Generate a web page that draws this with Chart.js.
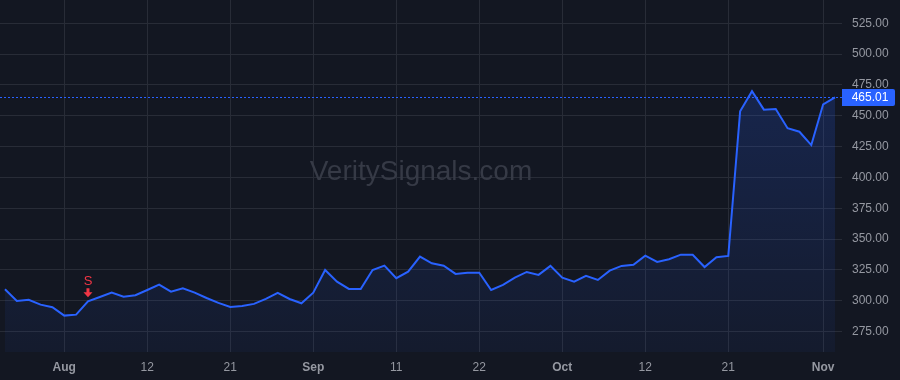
<!DOCTYPE html>
<html>
<head>
<meta charset="utf-8">
<script src="https://cdn.jsdelivr.net/npm/chart.js@4/dist/chart.umd.min.js"></script>
<style>
  html, body { margin: 0; padding: 0; background: #131722; }
  #wrap { width: 900px; height: 380px; position: relative; }
</style>
</head>
<body>
<div id="wrap"><canvas id="myChart"></canvas></div>
<script>
// daily closes, one per bar
const prices = [
  309.4, 299.9, 300.9, 296.9, 294.8, 288.0, 288.8, 299.6, 303.1, 306.6,
  303.4, 304.5, 308.8, 313.1, 307.4, 310.2, 306.6, 302.3, 298.3, 295.0,
  295.8, 297.5, 301.5, 306.4, 301.5, 298.0, 306.6, 325.0, 315.5, 309.6,
  309.6, 325.0, 328.5, 318.3, 323.6, 335.8, 330.4, 328.5, 321.8, 322.8,
  322.8, 308.8, 312.9, 318.8, 323.4, 321.0, 328.3, 318.8, 315.5, 320.2,
  316.9, 324.5, 328.3, 329.3, 336.6, 331.5, 333.7, 337.4, 337.4, 327.4,
  335.3, 336.4, 453.7, 469.9, 455.0, 455.5, 439.9, 437.1, 426.3, 459.3,
  465.01
];
const tickIndex = [5, 12, 19, 26, 33, 40, 47, 54, 61, 69];
const tickLabels = ['Aug', '12', '21', 'Sep', '11', '22', 'Oct', '12', '21', 'Nov'];
const monthLabels = ['Aug', 'Sep', 'Oct', 'Nov'];
const priceTicks = [275, 300, 325, 350, 375, 400, 425, 450, 475, 500, 525];
const signalIndex = 7;
const signalText = 'S';
const watermark = 'VeritySignals.com';

const font = '"Liberation Sans", Arial, sans-serif';
const ctx = document.getElementById('myChart').getContext('2d');

const overlay = {
  id: 'overlay',
  beforeDraw(chart) {
    const c = chart.ctx;
    c.save();
    c.fillStyle = '#131722';
    c.fillRect(0, 0, chart.width, chart.height);
    c.restore();
  },
  beforeDatasetsDraw(chart) {
    const c = chart.ctx;
    const a = chart.chartArea;
    c.save();
    c.font = '28px ' + font;
    c.fillStyle = '#363a46';
    c.textAlign = 'center';
    c.textBaseline = 'middle';
    c.fillText(watermark, (a.left + a.right) / 2, (a.top + a.bottom) / 2 - 4);
    c.restore();
  },
  afterDatasetsDraw(chart) {
    const c = chart.ctx;
    const a = chart.chartArea;
    const xs = chart.scales.x;
    const ys = chart.scales.y;
    const last = prices[prices.length - 1];
    const py = Math.round(ys.getPixelForValue(last)) + 0.5;

    // last price dotted line
    c.save();
    c.strokeStyle = '#2962ff';
    c.lineWidth = 1;
    c.setLineDash([2, 2]);
    c.beginPath();
    c.moveTo(a.left, py);
    c.lineTo(a.right, py);
    c.stroke();
    c.restore();

    // price label
    c.save();
    c.fillStyle = '#2962ff';
    c.beginPath();
    c.roundRect(a.right, py - 8.5, 53, 17, [0, 2, 2, 0]);
    c.fill();
    c.fillStyle = '#ffffff';
    c.font = '12px ' + font;
    c.textAlign = 'center';
    c.textBaseline = 'middle';
    c.fillText(last.toFixed(2), a.right + 28, py + 0.5);
    c.restore();

    // sell signal marker
    const sx = xs.getPixelForValue(signalIndex);
    const sy = ys.getPixelForValue(prices[signalIndex]);
    c.save();
    c.fillStyle = '#f23645';
    c.font = '13px ' + font;
    c.textAlign = 'center';
    c.textBaseline = 'middle';
    c.fillText(signalText, sx, sy - 20);
    const top = sy - 13;
    c.beginPath();
    c.moveTo(sx - 1.5, top);
    c.lineTo(sx + 1.5, top);
    c.lineTo(sx + 1.5, top + 4);
    c.lineTo(sx + 4.5, top + 4);
    c.lineTo(sx, top + 9);
    c.lineTo(sx - 4.5, top + 4);
    c.lineTo(sx - 1.5, top + 4);
    c.closePath();
    c.fill();
    c.restore();
  }
};

const myChart = new Chart(ctx, {
  type: 'line',
  data: {
    datasets: [{
      label: 'Close',
      data: prices.map((p, i) => ({ x: i, y: p })),
      borderColor: '#2962ff',
      borderWidth: 2,
      pointRadius: 0,
      tension: 0,
      fill: 'start',
      backgroundColor: (context) => {
        const area = context.chart.chartArea;
        if (!area) return 'rgba(41,98,255,0.12)';
        const g = context.chart.ctx.createLinearGradient(0, area.top, 0, area.bottom);
        g.addColorStop(0, 'rgba(41,98,255,0.24)');
        g.addColorStop(1, 'rgba(41,98,255,0.05)');
        return g;
      }
    }]
  },
  options: {
    responsive: true,
    maintainAspectRatio: false,
    animation: false,
    layout: { padding: 0 },
    plugins: {
      legend: { display: false },
      tooltip: { enabled: false }
    },
    scales: {
      x: {
        type: 'linear',
        min: -0.42,
        max: 70.59,
        border: { display: false },
        grid: { color: '#282c37', drawTicks: false, lineWidth: 1 },
        afterBuildTicks: (axis) => {
          axis.ticks = tickIndex.map(v => ({ value: v }));
        },
        afterFit: (axis) => {
          axis.height = 28;
          axis.paddingLeft = 0;
          axis.paddingRight = 0;
        },
        ticks: {
          padding: 8,
          maxRotation: 0,
          autoSkip: false,
          color: '#9598a1',
          font: (c) => ({
            family: font,
            size: 12,
            weight: c.tick && monthLabels.includes(tickLabels[tickIndex.indexOf(c.tick.value)]) ? 'bold' : 'normal'
          }),
          callback: (value) => {
            const k = tickIndex.indexOf(value);
            return k >= 0 ? tickLabels[k] : '';
          }
        }
      },
      y: {
        position: 'right',
        min: 258.5,
        max: 543.9,
        border: { display: false },
        grid: { color: '#282c37', drawTicks: false, lineWidth: 1 },
        afterBuildTicks: (axis) => {
          axis.ticks = priceTicks.map(v => ({ value: v }));
        },
        afterFit: (axis) => {
          axis.width = 58;
          axis.paddingTop = 0;
          axis.paddingBottom = 0;
        },
        ticks: {
          padding: 10,
          color: '#9598a1',
          font: { family: font, size: 12 },
          callback: (value) => Number(value).toFixed(2)
        }
      }
    }
  },
  plugins: [overlay]
});
</script>
</body>
</html>
